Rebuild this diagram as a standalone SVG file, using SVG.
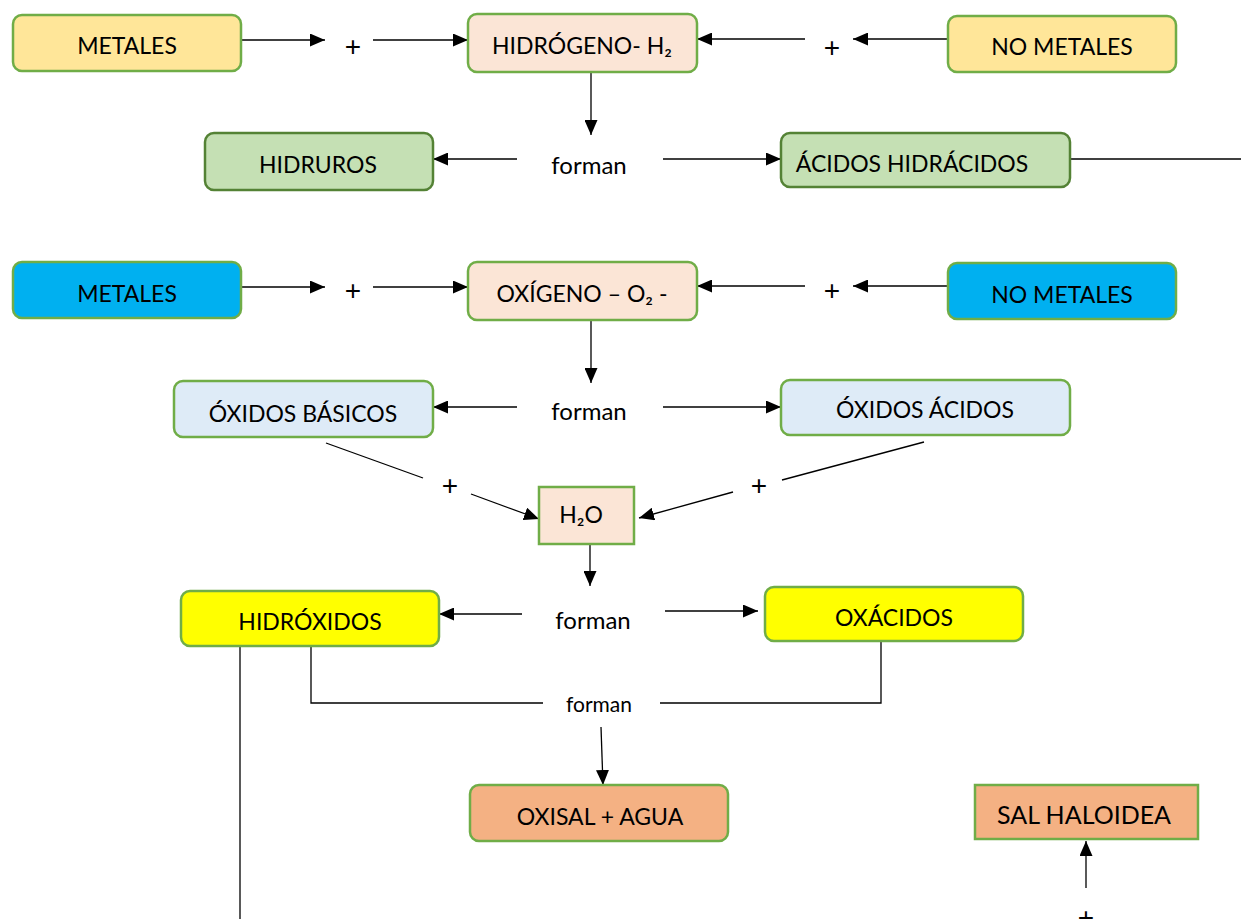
<svg xmlns="http://www.w3.org/2000/svg" width="1241" height="919" viewBox="0 0 1241 919">
<style>
text{font-family:Lato,"Open Sans","Liberation Sans",sans-serif;font-size:23px;fill:#000;text-anchor:middle}
.box{stroke:#70AD47;stroke-width:2.5}
.dk{stroke:#548235}
.yl{fill:#FFE699}.bl{fill:#00B0F0}.pk{fill:#FBE5D6}.gr{fill:#C5E0B4}.lb{fill:#DEEBF7}.ye{fill:#FFFF00}.or{fill:#F4B183}
.c line,.c polyline{stroke:#000;stroke-width:1.3;fill:none}
.a{marker-end:url(#ah)}
.fm{font-size:24px}
.sm{font-size:21px}
.lg{font-size:25px}
text.pl{font-family:"Liberation Sans",Arial,sans-serif;font-size:28px}
</style>
<defs>
<marker id="ah" viewBox="0 0 15 13" refX="15" refY="6.5" markerWidth="15" markerHeight="13" markerUnits="userSpaceOnUse" orient="auto">
<path d="M0,0 L15,6.5 L0,13 z" fill="#000"/>
</marker>
</defs>
<rect width="1241" height="919" fill="#fff"/>

<g class="c" id="connectors">
<line class="a" x1="241" y1="40" x2="325" y2="40"/>
<line class="a" x1="373" y1="40" x2="468" y2="40"/>
<line class="a" x1="805" y1="39" x2="697" y2="39"/>
<line class="a" x1="948" y1="39" x2="853" y2="39"/>
<line class="a" x1="591" y1="72" x2="591" y2="135"/>
<line class="a" x1="517" y1="159" x2="433" y2="159"/>
<line class="a" x1="663" y1="159" x2="781" y2="159"/>
<line x1="1070" y1="159" x2="1241" y2="159"/>

<line class="a" x1="241" y1="287" x2="325" y2="287"/>
<line class="a" x1="373" y1="287" x2="468" y2="287"/>
<line class="a" x1="805" y1="286" x2="697" y2="286"/>
<line class="a" x1="948" y1="286" x2="853" y2="286"/>
<line class="a" x1="591" y1="320" x2="591" y2="383"/>
<line class="a" x1="517" y1="407" x2="433" y2="407"/>
<line class="a" x1="663" y1="407" x2="781" y2="407"/>

<line x1="326" y1="443" x2="423" y2="478"/>
<line class="a" x1="471" y1="494" x2="539" y2="519"/>
<line x1="924" y1="442" x2="782" y2="480"/>
<line class="a" x1="733" y1="492" x2="639" y2="518"/>
<line class="a" x1="590" y1="544" x2="590" y2="586"/>
<line class="a" x1="522" y1="614" x2="439" y2="614"/>
<line class="a" x1="665" y1="611" x2="758" y2="611"/>

<line x1="240" y1="646" x2="240" y2="919"/>
<polyline points="311,646 311,703 543,703"/>
<polyline points="660,703 881,703 881,641"/>
<line class="a" x1="601" y1="727" x2="603" y2="785"/>
<line class="a" x1="1086" y1="888" x2="1086" y2="841"/>
</g>

<g id="n-metales1"><rect class="box yl" x="13" y="15" width="228" height="56" rx="9"/><text x="127" y="54">METALES</text></g>
<g id="n-plus1"><text class="pl" x="353" y="56">+</text></g>
<g id="n-hidrogeno"><rect class="box pk" x="468" y="14" width="229" height="58" rx="9"/><text x="582" y="54">HIDRÓGENO- H₂</text></g>
<g id="n-plus2"><text class="pl" x="832" y="57">+</text></g>
<g id="n-nometales1"><rect class="box yl" x="948" y="16" width="228" height="56" rx="9"/><text x="1062" y="55">NO METALES</text></g>
<g id="n-hidruros"><rect class="box dk gr" x="205" y="133" width="228" height="57" rx="9"/><text x="318" y="173">HIDRUROS</text></g>
<g id="n-forman1"><text class="fm" x="589" y="174">forman</text></g>
<g id="n-acidoshid"><rect class="box dk gr" x="781" y="133" width="289" height="54" rx="9"/><text x="912" y="172">ÁCIDOS HIDRÁCIDOS</text></g>

<g id="n-metales2"><rect class="box bl" x="13" y="262" width="228" height="56" rx="9"/><text x="127" y="302">METALES</text></g>
<g id="n-plus3"><text class="pl" x="353" y="300">+</text></g>
<g id="n-oxigeno"><rect class="box pk" x="468" y="262" width="229" height="58" rx="9"/><text x="582" y="302">OXÍGENO – O₂ -</text></g>
<g id="n-plus4"><text class="pl" x="832" y="300">+</text></g>
<g id="n-nometales2"><rect class="box bl" x="948" y="263" width="228" height="56" rx="9"/><text x="1062" y="303">NO METALES</text></g>
<g id="n-oxbasicos"><rect class="box lb" x="174" y="381" width="259" height="56" rx="9"/><text x="303" y="422">ÓXIDOS BÁSICOS</text></g>
<g id="n-forman2"><text class="fm" x="589" y="420">forman</text></g>
<g id="n-oxacidos"><rect class="box lb" x="781" y="380" width="289" height="55" rx="9"/><text x="925" y="418">ÓXIDOS ÁCIDOS</text></g>

<g id="n-plus5"><text class="pl" x="450" y="495">+</text></g>
<g id="n-plus6"><text class="pl" x="759" y="495">+</text></g>
<g id="n-h2o"><rect class="box pk" x="539" y="487" width="95" height="57"/><text x="581" y="523">H₂O</text></g>

<g id="n-hidroxidos"><rect class="box ye" x="181" y="591" width="258" height="55" rx="9"/><text x="310" y="630">HIDRÓXIDOS</text></g>
<g id="n-forman3"><text class="fm" x="593" y="629">forman</text></g>
<g id="n-oxacidos2"><rect class="box ye" x="765" y="587" width="258" height="54" rx="9"/><text x="894" y="626">OXÁCIDOS</text></g>
<g id="n-forman4"><text class="sm" x="599" y="712">forman</text></g>
<g id="n-oxisal"><rect class="box or" x="470" y="785" width="258" height="56" rx="9"/><text x="600" y="825">OXISAL + AGUA</text></g>
<g id="n-salhaloidea"><rect class="box or" x="975" y="785" width="223" height="54"/><text class="lg" x="1084" y="824">SAL HALOIDEA</text></g>
<g id="n-plus7"><text class="pl" x="1086" y="927">+</text></g>
</svg>
